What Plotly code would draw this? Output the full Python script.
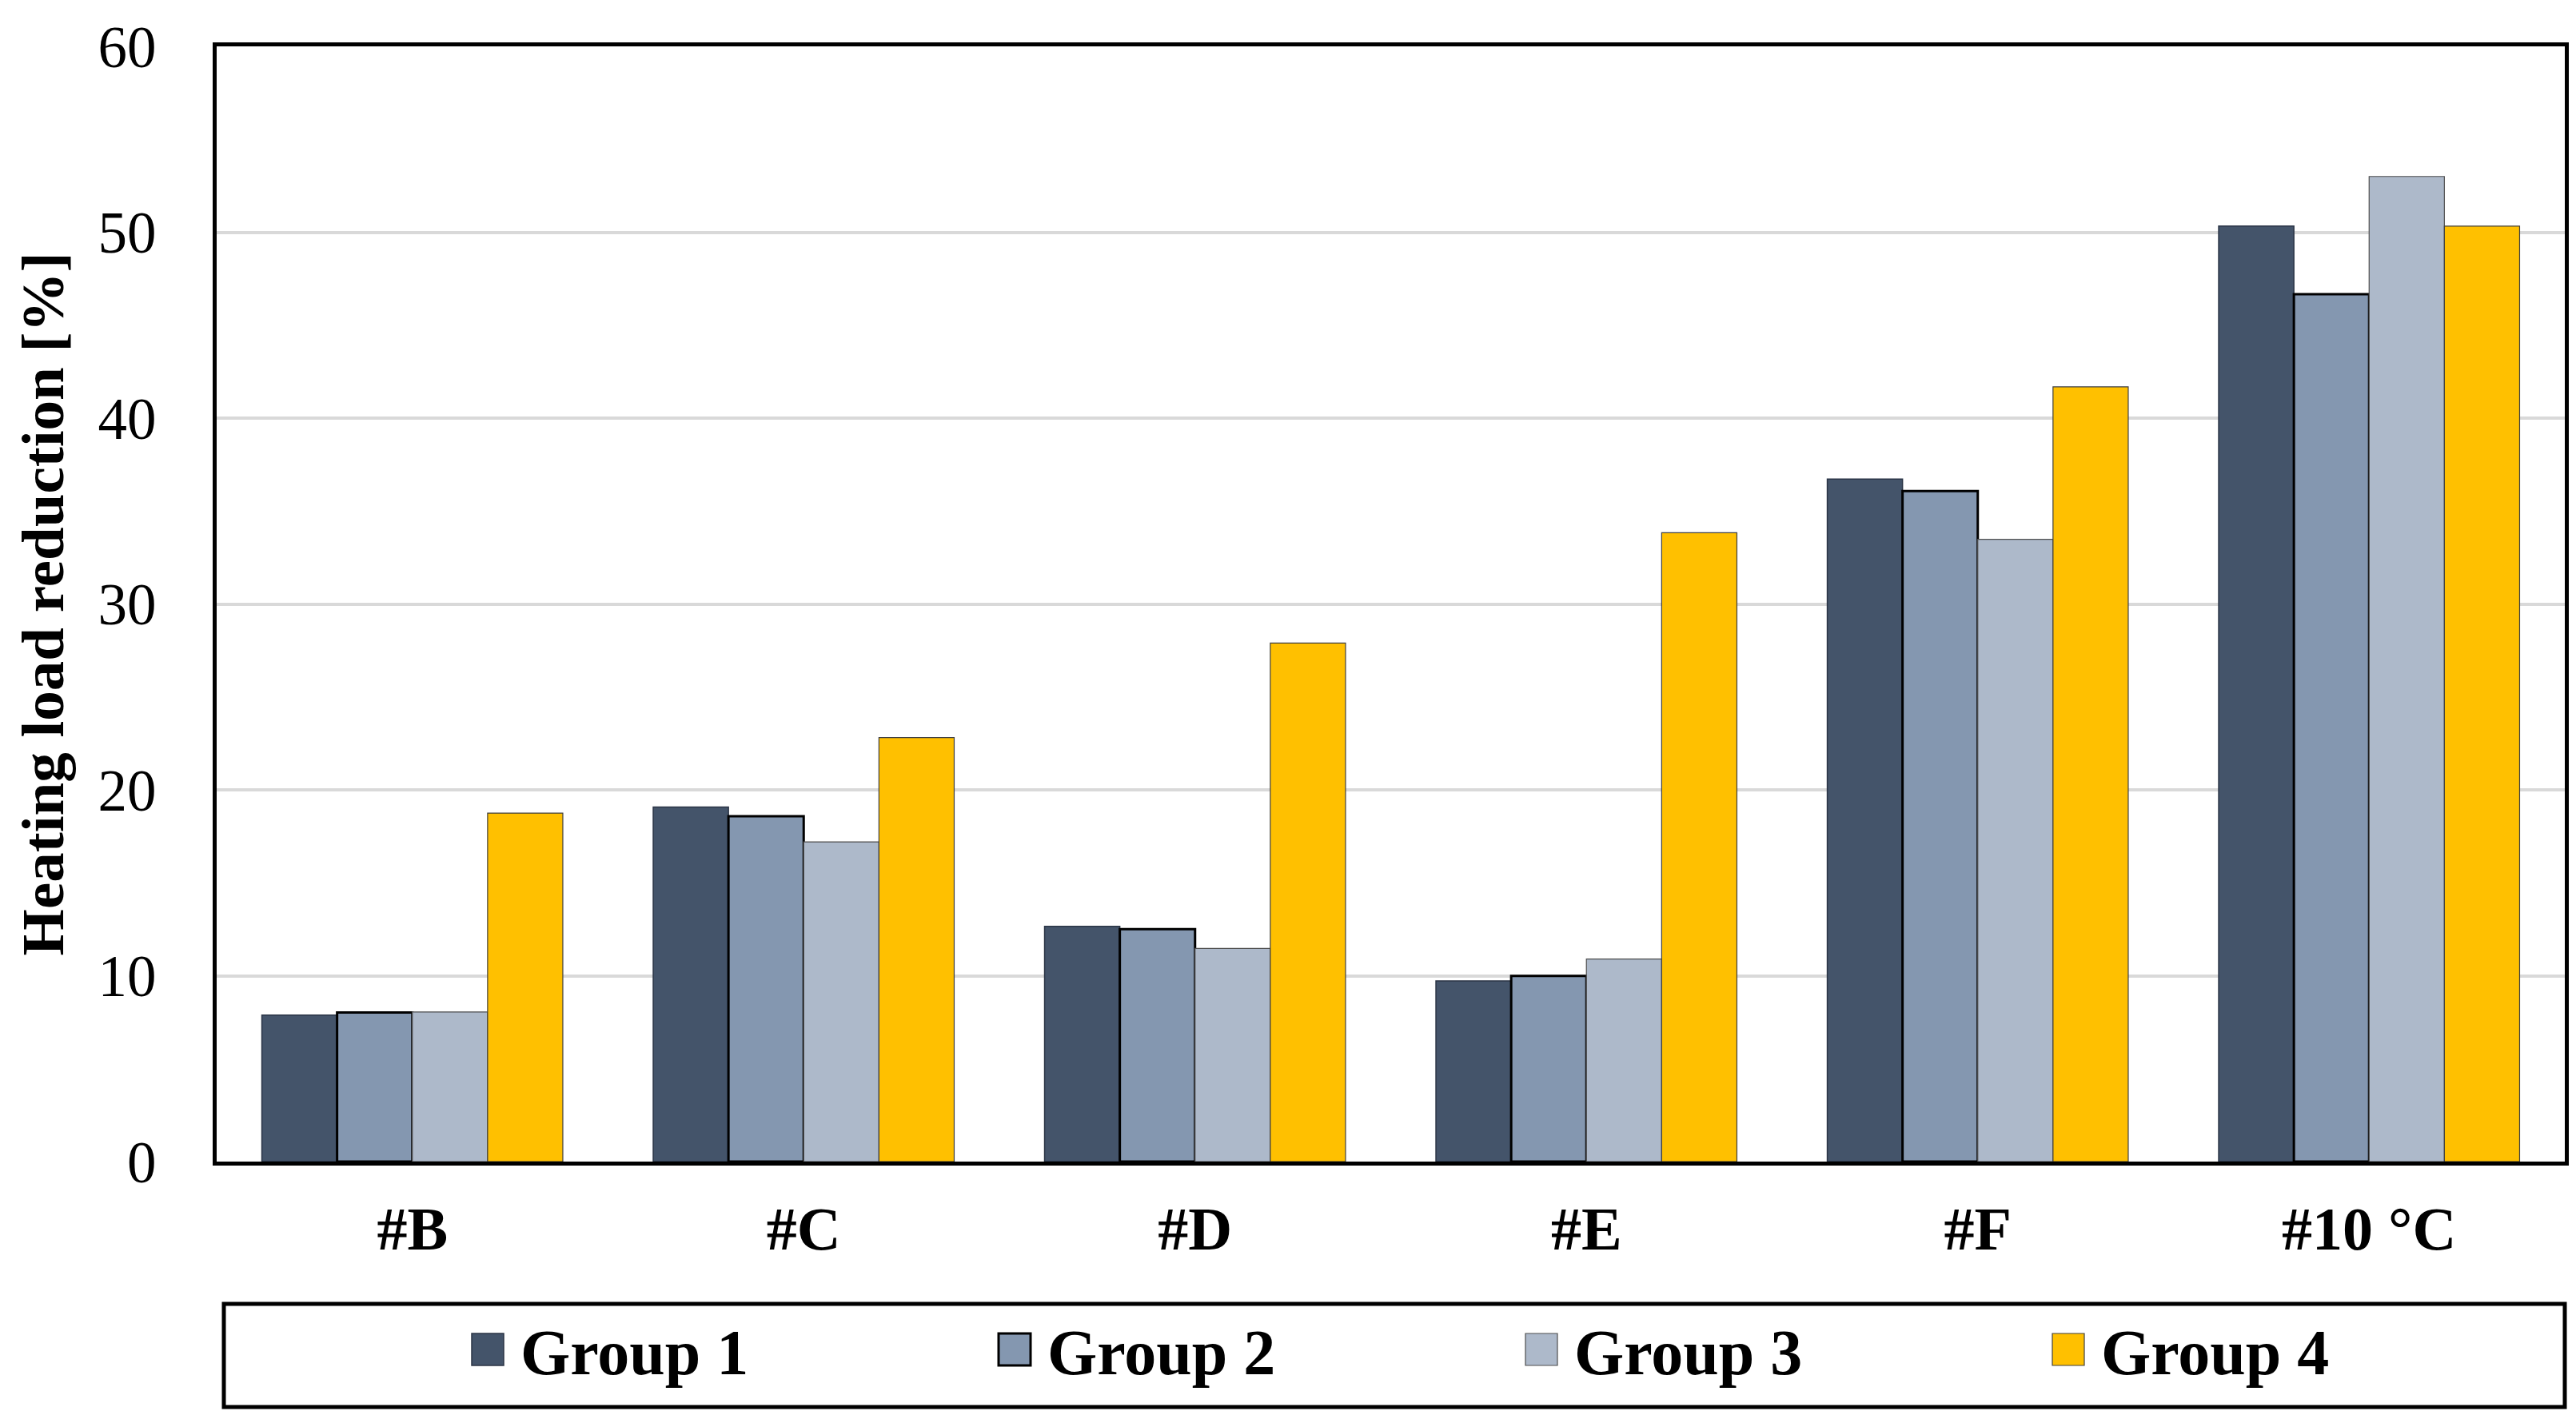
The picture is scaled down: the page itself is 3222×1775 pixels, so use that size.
import plotly.graph_objects as go

categories = ["#B", "#C", "#D", "#E", "#F", "#10 °C"]
group_names = ["Group 1", "Group 2", "Group 3", "Group 4"]
group1 = [7.88, 19.08, 12.66, 9.72, 36.72, 50.33]
group2 = [8.02, 18.58, 12.51, 9.99, 36.08, 46.67]
group3 = [8.05, 17.2, 11.47, 10.9, 33.48, 53.0]
group4 = [18.75, 22.81, 27.9, 33.83, 41.68, 50.33]
y_ticks = [0, 10, 20, 30, 40, 50, 60]

series = [group1, group2, group3, group4]
fills = ["#44546A", "#8497B0", "#ADB9CA", "#FFC000"]
lines = ["#2B3546", "#000000", "#4F4F4F", "#3F3F3F"]
line_w = [1.5, 3, 1.2, 1.2]
legend_w = [614, 614, 614, 300]

W, H = 3222, 1775
L, R, T, B = 263, 22, 50, 330
FONT = "Liberation Serif"

fig = go.Figure()
for name, vals, fc, lc, lw, lgw in zip(group_names, series, fills, lines, line_w, legend_w):
    fig.add_trace(go.Bar(
        x=categories, y=vals, name=name, legendwidth=lgw,
        marker=dict(color=fc, line=dict(color=lc, width=lw)),
    ))

fig.update_layout(
    width=W, height=H,
    margin=dict(l=L, r=R, t=T, b=B, autoexpand=False),
    paper_bgcolor="white", plot_bgcolor="white",
    barmode="group", bargap=0.231, bargroupgap=0,
    font=dict(family=FONT, color="black", size=72),
    showlegend=True,
    legend=dict(
        orientation="h",
        xref="container", yref="container",
        x=603 / W, xanchor="left",
        y=1 - 1680 / H, yanchor="middle",
        font=dict(family=FONT, size=80, weight="bold", color="black"),
        bgcolor="rgba(0,0,0,0)", borderwidth=0,
        entrywidthmode="pixels",
        itemclick=False, itemdoubleclick=False,
    ),
    xaxis=dict(
        showline=True, mirror=True, linecolor="black", linewidth=5,
        showgrid=False, ticks="", ticklabelstandoff=14,
        tickfont=dict(family=FONT, size=76, weight="bold"),
        automargin=False,
    ),
    yaxis=dict(
        range=[0, 60], tickvals=y_ticks,
        showline=True, mirror=True, linecolor="black", linewidth=5,
        showgrid=True, gridcolor="#D9D9D9", gridwidth=4,
        zeroline=False, ticks="", ticklabelstandoff=56,
        tickfont=dict(family=FONT, size=73),
        title=dict(text="Heating load reduction [%]", standoff=20,
                   font=dict(family=FONT, size=75, weight="bold")),
        automargin=False,
    ),
)

# legend frame (decoration) drawn as a paper-referenced rectangle
pw, ph = W - L - R, H - T - B
fig.add_shape(
    type="rect", xref="paper", yref="paper",
    x0=(272 - L) / pw, x1=(3200 - L) / pw,
    y0=(H - B - 1752) / ph, y1=(H - B - 1623) / ph,
    line=dict(color="black", width=5), fillcolor="rgba(0,0,0,0)", layer="above",
)

post = """
var gd = document.getElementById('{plot_id}');
gd.querySelectorAll('.legend [clip-path]').forEach(function(el){
  el.removeAttribute('clip-path');
});
gd.querySelectorAll('.legend .legendpoints path').forEach(function(p){
  p.setAttribute('d', 'M-1,20H-41V-20H-1Z');
});
"""
fig.write_html("out.html", post_script=post)
